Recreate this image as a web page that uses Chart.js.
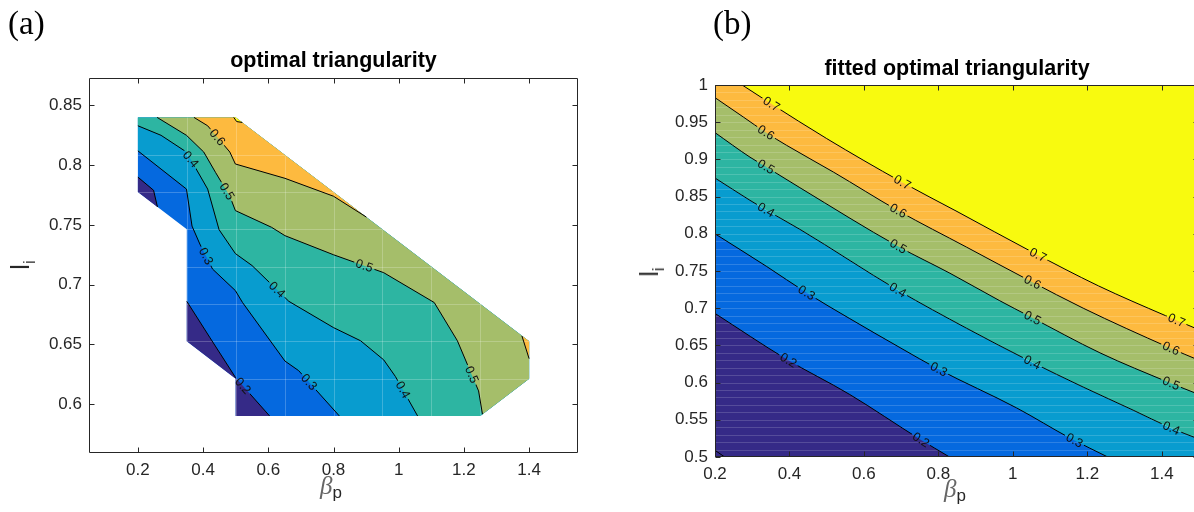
<!DOCTYPE html>
<html>
<head>
<meta charset="utf-8">
<script src="https://cdn.jsdelivr.net/npm/chart.js@4.4.1/dist/chart.umd.min.js"></script>
<style>
  html, body { margin: 0; padding: 0; background: #fff; width: 1194px; height: 512px; overflow: hidden; position: relative; }
  #wrapA { position: absolute; left: 0; top: 0; width: 600px; height: 512px; }
  #wrapB { position: absolute; left: 600px; top: 0; width: 620px; height: 512px; }
  .panel { position: absolute; font-family: "Liberation Serif", serif; font-size: 33px; line-height: 38px; color: #000; }
  .title { position: absolute; text-align: center; font-family: "Liberation Sans", Arial, sans-serif; font-weight: bold; font-size: 21.5px; line-height: 25px; color: #000; white-space: nowrap; }
  .xlab { position: absolute; font-family: "Liberation Sans", Arial, sans-serif; font-size: 17px; color: #262626; white-space: nowrap; line-height: 24px; }
  .xlab .b { font-family: "Liberation Serif", serif; font-style: italic; font-size: 25px; color: #666; }
  .ylab { position: absolute; font-family: "Liberation Sans", Arial, sans-serif; font-size: 25px; color: #262626; white-space: nowrap; line-height: 26px; transform: translate(-50%, -50%) rotate(-90deg); }
  .ylab sub, .xlab sub { font-size: 17px; }
</style>
</head>
<body>
<div id="wrapA"><canvas id="chartA" width="600" height="512"></canvas></div>
<div id="wrapB"><canvas id="chartB" width="620" height="512"></canvas></div>

<div class="panel" style="left:8px;top:4px">(a)</div>
<div class="panel" style="left:713px;top:4px">(b)</div>
<div class="title" style="left:89px;width:489px;top:48px">optimal triangularity</div>
<div class="title" style="left:715px;width:484px;top:56px">fitted optimal triangularity</div>
<div class="xlab" style="left:320px;top:474px"><span class="b">β</span><sub>p</sub></div>
<div class="xlab" style="left:944px;top:477px"><span class="b">β</span><sub>p</sub></div>
<div class="ylab" style="left:25px;top:265px">l<sub>i</sub></div>
<div class="ylab" style="left:654px;top:272px">l<sub>i</sub></div>

<script>
// colours of the filled bands, lowest level first
const bandColors = ['#352A87', '#0569DF', '#089CCF', '#2DB5A2', '#A5BE6A', '#FDBA3F', '#F8FA0F'];

// ---------- (a) optimal triangularity ----------
const aXRange = [0.05, 1.55];
const aYRange = [0.559, 0.873];
const aXTicks = [0.2, 0.4, 0.6, 0.8, 1, 1.2, 1.4];
const aXTickLabels = ['0.2', '0.4', '0.6', '0.8', '1', '1.2', '1.4'];
const aYTicks = [0.6, 0.65, 0.7, 0.75, 0.8, 0.85];
const aYTickLabels = ['0.6', '0.65', '0.7', '0.75', '0.8', '0.85'];

// outline of the region where data exists
const domX = [0.2, 0.5, 1.4, 1.4, 1.25, 0.5, 0.5, 0.35, 0.35, 0.2];
const domY = [0.84, 0.84, 0.6525, 0.62125, 0.59, 0.59, 0.62125, 0.6525, 0.74625, 0.7775];
// faint mesh lines inside the region
const aGridX = [0.35, 0.5, 0.65, 0.8, 0.95, 1.1, 1.25];
const aGridY = [0.62125, 0.6525, 0.68375, 0.715, 0.74625, 0.7775, 0.80875];

// contour lines
const a02aX = [0.2, 0.248, 0.26];
const a02aY = [0.79, 0.779, 0.765];
const a02bX = [0.35, 0.42, 0.5, 0.604];
const a02bY = [0.686, 0.656, 0.622, 0.59];
const a03X = [0.2, 0.349, 0.366, 0.39, 0.429, 0.499, 0.521, 0.651, 0.693, 0.818];
const a03Y = [0.812, 0.78, 0.749, 0.734, 0.713, 0.695, 0.685, 0.636, 0.628, 0.59];
const a04X = [0.2, 0.271, 0.349, 0.414, 0.449, 0.499, 0.55, 0.663, 0.8, 0.883, 0.954, 0.99, 1.058];
const a04Y = [0.833, 0.825, 0.811, 0.78, 0.746, 0.726, 0.716, 0.686, 0.664, 0.653, 0.637, 0.623, 0.59];
const a05X = [0.259, 0.349, 0.402, 0.438, 0.482, 0.499, 0.61, 0.651, 0.8, 0.954, 1.109, 1.18, 1.245, 1.257];
const a05Y = [0.84, 0.825, 0.811, 0.794, 0.774, 0.762, 0.748, 0.741, 0.725, 0.71, 0.685, 0.653, 0.611, 0.5915];
const a06aX = [0.372, 0.414, 0.482, 0.499, 0.651, 0.8, 0.901];
const a06aY = [0.84, 0.833, 0.811, 0.801, 0.789, 0.774, 0.7565];
const a06bX = [1.378, 1.4];
const a06bY = [0.657, 0.638];
const a07X = [0.494, 0.503, 0.52];
const a07Y = [0.84, 0.8365, 0.8358];

// inline contour labels
const aLabV = [0.6, 0.4, 0.5, 0.3, 0.5, 0.4, 0.2, 0.3, 0.4, 0.5];
const aLabX = [0.438, 0.343, 0.473, 0.41, 0.895, 0.628, 0.521, 0.723, 1.014, 1.228];
const aLabY = [0.822, 0.802, 0.778, 0.724, 0.716, 0.696, 0.615, 0.618, 0.612, 0.625];

// ---------- (b) fitted optimal triangularity ----------
const bXRange = [0.2, 1.5];
const bYRange = [0.5, 1];
const bXTicks = [0.2, 0.4, 0.6, 0.8, 1, 1.2, 1.4];
const bXTickLabels = ['0.2', '0.4', '0.6', '0.8', '1', '1.2', '1.4'];
const bYTicks = [0.5, 0.55, 0.6, 0.65, 0.7, 0.75, 0.8, 0.85, 0.9, 0.95, 1];
const bYTickLabels = ['0.5', '0.55', '0.6', '0.65', '0.7', '0.75', '0.8', '0.85', '0.9', '0.95', '1'];

const b01X = [0.2, 0.226];
const b01Y = [0.509, 0.5];
const b02X = [0.2, 0.39, 0.562, 0.75, 0.83];
const b02Y = [0.693, 0.632, 0.584, 0.524, 0.5];
const b03X = [0.2, 0.339, 0.445, 0.562, 0.697, 0.8, 1.01, 1.155, 1.255];
const b03Y = [0.8, 0.756, 0.721, 0.686, 0.647, 0.618, 0.566, 0.525, 0.5];
const b04X = [0.2, 0.294, 0.337, 0.428, 0.692, 0.876, 1.045, 1.189, 1.323, 1.42, 1.5];
const b04Y = [0.875, 0.845, 0.832, 0.806, 0.724, 0.673, 0.629, 0.594, 0.563, 0.54, 0.524];
const b05X = [0.2, 0.294, 0.337, 0.428, 0.692, 0.831, 0.965, 1.045, 1.234, 1.42, 1.5];
const b05Y = [0.936, 0.903, 0.89, 0.862, 0.783, 0.747, 0.71, 0.689, 0.64, 0.6, 0.584];
const b06X = [0.2, 0.276, 0.337, 0.392, 0.518, 0.692, 0.876, 1.045, 1.189, 1.42, 1.5];
const b06Y = [0.983, 0.957, 0.936, 0.919, 0.883, 0.831, 0.782, 0.737, 0.7, 0.647, 0.63];
const b07X = [0.273, 0.35, 0.5, 0.7, 0.85, 1.05, 1.23, 1.41, 1.5];
const b07Y = [1.0, 0.975, 0.928, 0.87, 0.83, 0.776, 0.73, 0.69, 0.671];

const bLabV = [0.7, 0.7, 0.7, 0.7, 0.6, 0.6, 0.6, 0.6, 0.5, 0.5, 0.5, 0.5, 0.4, 0.4, 0.4, 0.4, 0.3, 0.3, 0.3, 0.2, 0.2];
const bLabX = [0.351, 0.704, 1.069, 1.44, 0.337, 0.692, 1.053, 1.425, 0.337, 0.692, 1.053, 1.425, 0.337, 0.692, 1.053, 1.425, 0.445, 0.8, 1.165, 0.397, 0.752];
const bLabY = [0.974, 0.87, 0.773, 0.684, 0.936, 0.831, 0.735, 0.646, 0.89, 0.783, 0.687, 0.599, 0.832, 0.725, 0.628, 0.538, 0.72, 0.617, 0.522, 0.63, 0.522];

// ---------- helpers ----------
const pts = (xs, ys) => xs.map((x, i) => ({x, y: ys[i]}));
const dom = i => ({x: domX[i], y: domY[i]});
const labelFont = '12.5px "Liberation Sans", Arial, sans-serif';
const tickFont = {family: 'Liberation Sans', size: 17};

function shape(data, color, extra) {
  return Object.assign({data, showLine: true, fill: 'shape', backgroundColor: color,
    borderWidth: 0, pointRadius: 0, pointHoverRadius: 0}, extra);
}
function band(data, fill, color, extra) {
  return Object.assign({data, showLine: true, fill, backgroundColor: color, borderWidth: 0,
    pointRadius: 0, pointHoverRadius: 0, cubicInterpolationMode: 'monotone'}, extra);
}
function contour(data, level, extra) {
  return Object.assign({data, showLine: true, fill: false, borderColor: '#000', borderWidth: 1,
    pointRadius: 0, pointHoverRadius: 0, isContour: true, level}, extra);
}
// first dataset in the list is painted first
function ordered(list) {
  list.forEach((ds, i) => { ds.order = list.length - i; });
  return list;
}

// contour labels, line gaps, overlays, box with inward ticks
function contourTools(labV, labX, labY) {
  return {
    id: 'contourTools',
    beforeDatasetsDraw(chart) {
      const ctx = chart.ctx, xs = chart.scales.x, ys = chart.scales.y;
      ctx.save();
      ctx.font = labelFont;
      chart.$cl = labV.map((v, k) => {
        const px = xs.getPixelForValue(labX[k]), py = ys.getPixelForValue(labY[k]);
        let best = null;
        chart.data.datasets.forEach((ds, di) => {
          if (!ds.isContour || ds.level !== v) return;
          const p = chart.getDatasetMeta(di).data;
          for (let i = 0; i < p.length - 1; i++) {
            const dx = p[i + 1].x - p[i].x, dy = p[i + 1].y - p[i].y;
            const L2 = dx * dx + dy * dy || 1;
            let t = ((px - p[i].x) * dx + (py - p[i].y) * dy) / L2;
            t = Math.max(0, Math.min(1, t));
            const qx = p[i].x + t * dx, qy = p[i].y + t * dy;
            const d = (qx - px) ** 2 + (qy - py) ** 2;
            if (!best || d < best.d) best = {d, qx, qy, p, i, t};
          }
        });
        if (!best) return null;
        const {p, i, t} = best;
        let a = p[i], b = p[i + 1];
        if (t < 0.2 && i > 0) a = p[i - 1];
        if (t > 0.8 && i + 2 < p.length) b = p[i + 2];
        let ang = Math.atan2(b.y - a.y, b.x - a.x);
        if (ang > Math.PI / 2) ang -= Math.PI;
        if (ang < -Math.PI / 2) ang += Math.PI;
        const text = String(v);
        return {x: best.qx, y: best.qy, ang, text, w: ctx.measureText(text).width};
      }).filter(Boolean);
      ctx.restore();
    },
    beforeDatasetDraw(chart, args) {
      const ds = chart.data.datasets[args.index];
      if (!ds.isContour) return;
      const ctx = chart.ctx;
      ctx.save();
      ctx.beginPath();
      ctx.rect(0, 0, chart.width, chart.height);
      (chart.$cl || []).forEach(l => {
        const hw = l.w / 2 + 2, hh = 6, c = Math.cos(l.ang), s = Math.sin(l.ang);
        const q = [[-hw, -hh], [hw, -hh], [hw, hh], [-hw, hh]]
          .map(([u, w]) => [l.x + u * c - w * s, l.y + u * s + w * c]);
        ctx.moveTo(q[0][0], q[0][1]);
        for (let j = 1; j < 4; j++) ctx.lineTo(q[j][0], q[j][1]);
        ctx.closePath();
      });
      ctx.clip('evenodd');
    },
    afterDatasetDraw(chart, args) {
      const ds = chart.data.datasets[args.index];
      const ctx = chart.ctx, area = chart.chartArea, xs = chart.scales.x, ys = chart.scales.y;
      if (ds.isContour) { ctx.restore(); return; }
      if (ds.meshX) {
        // faint mesh inside the data region
        const outline = chart.getDatasetMeta(0).data;
        ctx.save();
        ctx.beginPath();
        outline.forEach((p, i) => i ? ctx.lineTo(p.x, p.y) : ctx.moveTo(p.x, p.y));
        ctx.closePath();
        ctx.clip();
        ctx.strokeStyle = 'rgba(255,255,255,0.22)';
        ctx.lineWidth = 1;
        ctx.beginPath();
        ds.meshX.forEach(v => { const x = Math.round(xs.getPixelForValue(v)) + 0.5; ctx.moveTo(x, area.top); ctx.lineTo(x, area.bottom); });
        ds.meshY.forEach(v => { const y = Math.round(ys.getPixelForValue(v)) + 0.5; ctx.moveTo(area.left, y); ctx.lineTo(area.right, y); });
        ctx.stroke();
        ctx.restore();
      }
      if (ds.stripes) {
        ctx.save();
        ctx.beginPath();
        ctx.rect(area.left, area.top, area.right - area.left, area.bottom - area.top);
        ctx.clip();
        ctx.strokeStyle = 'rgba(255,255,255,0.16)';
        ctx.lineWidth = 1;
        ctx.beginPath();
        for (let v = ys.min + 0.01; v < ys.max - 0.001; v += 0.01) {
          const y = Math.round(ys.getPixelForValue(v)) + 0.5;
          ctx.moveTo(area.left, y); ctx.lineTo(area.right, y);
        }
        ctx.stroke();
        ctx.restore();
      }
    },
    afterDatasetsDraw(chart) {
      const ctx = chart.ctx;
      ctx.save();
      ctx.font = labelFont;
      ctx.fillStyle = '#111';
      ctx.textAlign = 'center';
      ctx.textBaseline = 'middle';
      (chart.$cl || []).forEach(l => {
        ctx.save();
        ctx.translate(l.x, l.y);
        ctx.rotate(l.ang);
        ctx.fillText(l.text, 0, 0.5);
        ctx.restore();
      });
      ctx.restore();
    },
    afterDraw(chart) {
      const ctx = chart.ctx, a = chart.chartArea, xs = chart.scales.x, ys = chart.scales.y;
      const L = Math.round(a.left) + 0.5, R = Math.round(a.right) - 0.5;
      const T = Math.round(a.top) + 0.5, B = Math.round(a.bottom) - 0.5;
      const tl = 5;
      ctx.save();
      ctx.strokeStyle = '#262626';
      ctx.lineWidth = 1;
      ctx.beginPath();
      ctx.rect(L, T, R - L, B - T);
      xs.ticks.forEach(t => {
        const x = Math.round(xs.getPixelForValue(t.value)) + 0.5;
        ctx.moveTo(x, B); ctx.lineTo(x, B - tl);
        ctx.moveTo(x, T); ctx.lineTo(x, T + tl);
      });
      ys.ticks.forEach(t => {
        const y = Math.round(ys.getPixelForValue(t.value)) + 0.5;
        ctx.moveTo(L, y); ctx.lineTo(L + tl, y);
        ctx.moveTo(R, y); ctx.lineTo(R - tl, y);
      });
      ctx.stroke();
      ctx.restore();
    }
  };
}

function axes(xr, yr, xt, xl, yt, yl, yWidth, xHeight) {
  return {
    x: {
      type: 'linear', min: xr[0], max: xr[1],
      grid: {display: false, drawTicks: false}, border: {display: false},
      afterBuildTicks: s => { s.ticks = xt.map(v => ({value: v})); },
      afterFit: s => { s.height = xHeight; },
      ticks: {callback: (v, i) => xl[i], font: tickFont, color: '#262626', padding: 7, maxRotation: 0, autoSkip: false}
    },
    y: {
      type: 'linear', min: yr[0], max: yr[1],
      grid: {display: false, drawTicks: false}, border: {display: false},
      afterBuildTicks: s => { s.ticks = yt.map(v => ({value: v})); },
      afterFit: s => { s.width = yWidth; },
      ticks: {callback: (v, i) => yl[i], font: tickFont, color: '#262626', padding: 7, autoSkip: false}
    }
  };
}

const common = {
  responsive: false, animation: false, devicePixelRatio: 1, events: [],
  plugins: {legend: {display: false}, tooltip: {enabled: false}}
};

// ---------- chart (a) ----------
const rim = [4, 3, 2, 1, 0].map(dom);
const dsA = ordered([
  shape(pts(domX, domY), bandColors[1]),
  shape(pts(a02aX, a02aY).concat([dom(9)]), bandColors[0]),
  shape(pts(a02bX, a02bY).concat([dom(5), dom(6), dom(7)]), bandColors[0]),
  shape(pts(a03X, a03Y).concat(rim), bandColors[2]),
  shape(pts(a04X, a04Y).concat(rim), bandColors[3]),
  shape(pts(a05X, a05Y).concat([dom(3), dom(2), dom(1)]), bandColors[4]),
  shape(pts(a06aX, a06aY).concat([dom(1)]), bandColors[5]),
  shape(pts(a06bX, a06bY).concat([dom(2)]), bandColors[5]),
  shape(pts(a07X, a07Y).concat([dom(1)]), bandColors[6], {meshX: aGridX, meshY: aGridY}),
  contour(pts(a02aX, a02aY), 0.2),
  contour(pts(a02bX, a02bY), 0.2),
  contour(pts(a03X, a03Y), 0.3),
  contour(pts(a04X, a04Y), 0.4),
  contour(pts(a05X, a05Y), 0.5),
  contour(pts(a06aX, a06aY), 0.6),
  contour(pts(a06bX, a06bY), 0.6),
  contour(pts(a07X, a07Y), 0.7)
]);

new Chart(document.getElementById('chartA'), {
  type: 'scatter',
  data: {datasets: dsA},
  options: Object.assign({}, common, {
    layout: {padding: {top: 78, right: 22, bottom: 0, left: 0}},
    scales: axes(aXRange, aYRange, aXTicks, aXTickLabels, aYTicks, aYTickLabels, 89, 59)
  }),
  plugins: [contourTools(aLabV, aLabX, aLabY)]
});

// ---------- chart (b) ----------
const dsB = ordered([
  band(pts(b04X, b04Y), 'start', bandColors[2]),
  band(pts(b03X, b03Y), 'start', bandColors[1]),
  band(pts(b02X, b02Y), 'start', bandColors[0]),
  band(pts(b04X, b04Y), 'end', bandColors[3]),
  band(pts(b05X, b05Y), 'end', bandColors[4]),
  band(pts(b06X, b06Y), 'end', bandColors[5], {stripes: true}),
  band(pts(b07X, b07Y), 'end', bandColors[6]),
  contour(pts(b01X, b01Y), 0.1, {cubicInterpolationMode: 'monotone'}),
  contour(pts(b02X, b02Y), 0.2, {cubicInterpolationMode: 'monotone'}),
  contour(pts(b03X, b03Y), 0.3, {cubicInterpolationMode: 'monotone'}),
  contour(pts(b04X, b04Y), 0.4, {cubicInterpolationMode: 'monotone'}),
  contour(pts(b05X, b05Y), 0.5, {cubicInterpolationMode: 'monotone'}),
  contour(pts(b06X, b06Y), 0.6, {cubicInterpolationMode: 'monotone'}),
  contour(pts(b07X, b07Y), 0.7, {cubicInterpolationMode: 'monotone'})
]);

new Chart(document.getElementById('chartB'), {
  type: 'scatter',
  data: {datasets: dsB},
  options: Object.assign({}, common, {
    layout: {padding: {top: 85, right: 21, bottom: 0, left: 0}},
    scales: axes(bXRange, bYRange, bXTicks, bXTickLabels, bYTicks, bYTickLabels, 115, 55)
  }),
  plugins: [contourTools(bLabV, bLabX, bLabY)]
});
</script>
</body>
</html>
